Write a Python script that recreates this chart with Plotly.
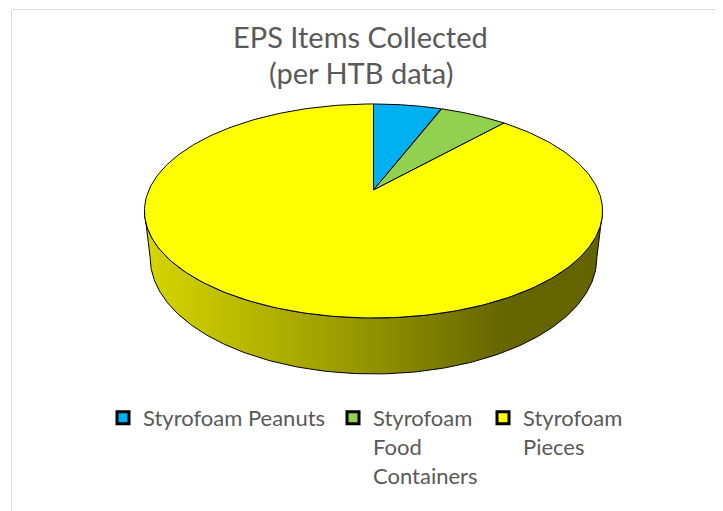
import numpy as np
import plotly.graph_objects as go

# ---- data ----
labels = ["Styrofoam Peanuts", "Styrofoam Food Containers", "Styrofoam Pieces"]
legend_labels = ["Styrofoam Peanuts", "Styrofoam<br>Food<br>Containers", "Styrofoam<br>Pieces"]
values = [5.8, 5.8, 88.4]
colors = ["#00B0F0", "#92D050", "#FFFF00"]
title_lines = ["EPS Items Collected", "(per HTB data)"]

# ---- layout constants ----
W, H = 723, 511
OFF = 8                    # page offset of the figure (body margin)
CX, CY = 373.5, 190.0      # projected pie centre (page px)
A, B = 224.6, 102.9        # horizontal / vertical radius factors
K = 0.196                  # perspective factor
T = 45.0                   # thickness
S = 0.975                  # bottom rim horizontal shrink
FONT = "Lato"
TXT = "#595959"


def px(xp):   # page x -> paper x
    return (xp - OFF) / W


def py(yp):   # page y -> paper y
    return 1 - (yp - OFF) / H


def proj(theta, bottom=False):
    u = np.sin(theta)
    v = np.cos(theta)
    w = 1 + K * v
    x = CX + (S if bottom else 1.0) * A * u / w
    y = CY - B * v / w + (T / w if bottom else 0.0)
    return x, y


def shade(hexcol, f):
    h = hexcol.lstrip("#")
    r, g, b = (int(h[i:i + 2], 16) for i in (0, 2, 4))
    return "rgb(%d,%d,%d)" % (r * f, g * f, b * f)


total = float(sum(values))
bounds = np.concatenate([[0.0], np.cumsum(values) / total * 2 * np.pi])
vis0 = np.arccos(-K)
vis1 = 2 * np.pi - vis0

fig = go.Figure()

# side walls
for i, lab in enumerate(labels):
    s0 = max(bounds[i], vis0)
    s1 = min(bounds[i + 1], vis1)
    if s1 <= s0:
        continue
    t = np.linspace(s0, s1, 200)
    xt, yt = proj(t)
    xb, yb = proj(t[::-1], bottom=True)
    xs = np.concatenate([xt, xb, xt[:1]])
    ys = np.concatenate([yt, yb, yt[:1]])
    fig.add_trace(go.Scatter(
        x=xs, y=ys, mode="lines", fill="toself",
        line=dict(color="#000000", width=1),
        fillgradient=dict(
            type="horizontal",
            colorscale=[[0.0, shade(colors[i], 0.84)],
                        [0.45, shade(colors[i], 0.60)],
                        [0.78, shade(colors[i], 0.40)],
                        [1.0, shade(colors[i], 0.39)]]),
        hoveron="fills", hoverinfo="text",
        text="%s: %g" % (lab, values[i]),
        showlegend=False))

# top faces
for i, lab in enumerate(labels):
    t = np.linspace(bounds[i], bounds[i + 1], 300)
    xa, ya = proj(t)
    xs = np.concatenate([[CX], xa, [CX]])
    ys = np.concatenate([[CY], ya, [CY]])
    fig.add_trace(go.Scatter(
        x=xs, y=ys, mode="lines", fill="toself", fillcolor=colors[i],
        line=dict(color="#000000", width=1),
        hoveron="fills", hoverinfo="text",
        text="%s: %g" % (lab, values[i]),
        showlegend=False))

# legend entries (one legend per entry to place them like the original)
legend_names = ["legend", "legend2", "legend3"]
legend_text_x = [143, 373, 523]          # page x where the text starts
for i, lab in enumerate(legend_labels):
    fig.add_trace(go.Scatter(
        x=[None], y=[None], mode="markers", name=lab,
        marker=dict(symbol="square", size=12, color=colors[i],
                    line=dict(color="#000000", width=3)),
        legend=legend_names[i], showlegend=True, hoverinfo="skip"))

legend_common = dict(xanchor="left", yanchor="top", valign="top",
                     y=py(397), bgcolor="rgba(0,0,0,0)",
                     font=dict(family=FONT, size=22, color=TXT))

annotations = [
    dict(text=title_lines[0], xref="paper", yref="paper",
         x=px(360.5), y=py(37), xanchor="center", yanchor="middle",
         showarrow=False, font=dict(family=FONT, size=29, color=TXT)),
    dict(text=title_lines[1], xref="paper", yref="paper",
         x=px(360.5), y=py(72), xanchor="center", yanchor="middle",
         showarrow=False, font=dict(family=FONT, size=29, color=TXT)),
]

fig.update_layout(
    width=W, height=H,
    margin=dict(l=0, r=0, t=0, b=0),
    paper_bgcolor="white", plot_bgcolor="white",
    xaxis=dict(range=[OFF, W + OFF], visible=False, fixedrange=True),
    yaxis=dict(range=[H + OFF, OFF], visible=False, fixedrange=True),
    legend=dict(x=px(legend_text_x[0] - 40), **legend_common),
    legend2=dict(x=px(legend_text_x[1] - 40), **legend_common),
    legend3=dict(x=px(legend_text_x[2] - 40), **legend_common),
    annotations=annotations,
    shapes=[dict(type="rect", xref="paper", yref="paper",
                 x0=px(11.5), x1=1.05, y0=-0.05, y1=py(9.5),
                 line=dict(color="#D9D9D9", width=1), layer="below")],
)

fig.write_html("out.html")
